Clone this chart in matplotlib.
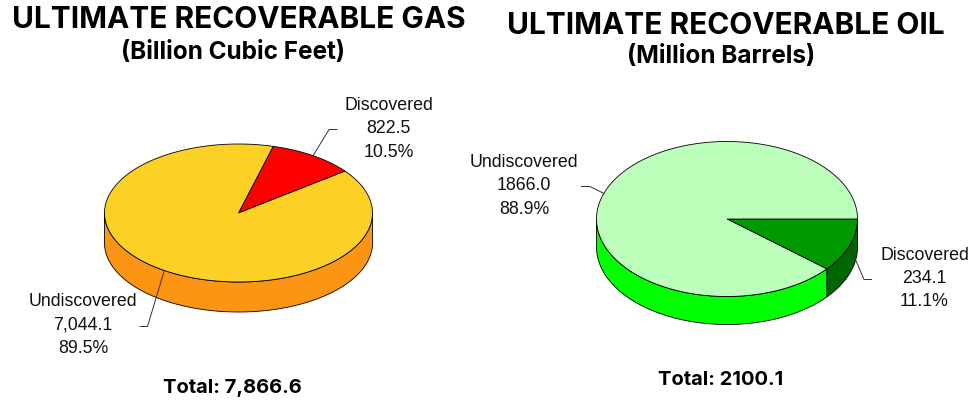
import numpy as np
import matplotlib
matplotlib.use('Agg')
import matplotlib.pyplot as plt
from matplotlib.patches import Polygon

# data
labels = ['Discovered', 'Undiscovered']
gas_values = [822.5, 7044.1]
gas_text = ['822.5', '7,044.1']
gas_pct = ['10.5%', '89.5%']
gas_total = 'Total: 7,866.6'
oil_values = [234.1, 1866.0]
oil_text = ['234.1', '1866.0']
oil_pct = ['11.1%', '88.9%']
oil_total = 'Total: 2100.1'

TITLE_FONT = 'Inter'
LABEL_FONT = 'Liberation Sans'

fig = plt.figure(figsize=(9.8, 4.02), dpi=100)
ax = fig.add_axes([0, 0, 1, 1])
ax.set_xlim(0, 980)
ax.set_ylim(402, 0)  # pixel coordinates, y down
ax.axis('off')


def arc(cx, cy, rx, ry, a0, a1):
    t = np.radians(np.linspace(a0, a1, 200))
    return np.column_stack([cx + rx * np.cos(t), cy - ry * np.sin(t)])


def pie3d(values, start, cx, cy, rx, ry, depth, top_colors, side_colors):
    # slices go clockwise from start angle
    angles = 360 * np.array(values) / sum(values)
    a = start
    for ang, tc, sc in zip(angles, top_colors, side_colors):
        a0, a1 = a - ang, a
        # wall: only the part of the slice on the front half of the ellipse
        for k in (-360, 0):
            lo, hi = max(a0 - k, 180), min(a1 - k, 360)
            if lo < hi:
                up = arc(cx, cy, rx, ry, lo, hi)
                down = (arc(cx, cy, rx, ry, lo, hi) + [0, depth])[::-1]
                ax.add_patch(Polygon(np.vstack([up, down]), fc=sc, ec='black', lw=0.6, zorder=1))
        a -= ang
    a = start
    for ang, tc in zip(angles, top_colors):
        pts = np.vstack([[cx, cy], arc(cx, cy, rx, ry, a - ang, a)])
        ax.add_patch(Polygon(pts, fc=tc, ec='black', lw=0.6, zorder=2))
        a -= ang


def label(x, ys, lines):
    for y, s in zip(ys, lines):
        ax.text(x, y, s, ha='center', va='center', fontsize=12.8, family=LABEL_FONT, color='#111111', zorder=4)


def leader(xs, ys):
    ax.plot(xs, ys, color='#333333', lw=0.7, zorder=3)


def heading(x, y, s, size):
    ax.text(x, y, s, ha='center', va='center', fontsize=size, family=TITLE_FONT, weight='bold', color='black')


pie3d(gas_values, 75, 238.5, 214, 134, 69, 30, ['#FF0000', '#FCD125'], ['#C00000', '#FC9414'])
pie3d(oil_values, 0, 727, 220, 130.5, 77.5, 28, ['#009900', '#BBFFBB'], ['#006600', '#00FF00'])

heading(238.5, 20, 'ULTIMATE RECOVERABLE GAS', 21.5)
heading(233, 52, '(Billion Cubic Feet)', 17.5)
heading(726, 26, 'ULTIMATE RECOVERABLE OIL', 21.5)
heading(721, 57, '(Million Barrels)', 17.5)
heading(232.5, 388, gas_total, 14.5)
heading(721, 380, oil_total, 14.5)

label(388.5, [105, 128.5, 152.5], [labels[0], gas_text[0], gas_pct[0]])
label(83, [301.5, 325.5, 349], [labels[1], gas_text[1], gas_pct[1]])
label(524, [162.5, 186, 209.5], [labels[1], oil_text[1], oil_pct[1]])
label(924.5, [255, 279, 301.5], [labels[0], oil_text[0], oil_pct[0]])

leader([337, 329, 313.5], [130.5, 130.5, 156])
leader([140, 147.5, 164], [327.5, 327.5, 272.5])
leader([581.5, 590, 604], [187.5, 187.5, 194.5])
leader([871.5, 864, 850], [280.5, 280.5, 247.5])

fig.savefig('out.png', dpi=100)
